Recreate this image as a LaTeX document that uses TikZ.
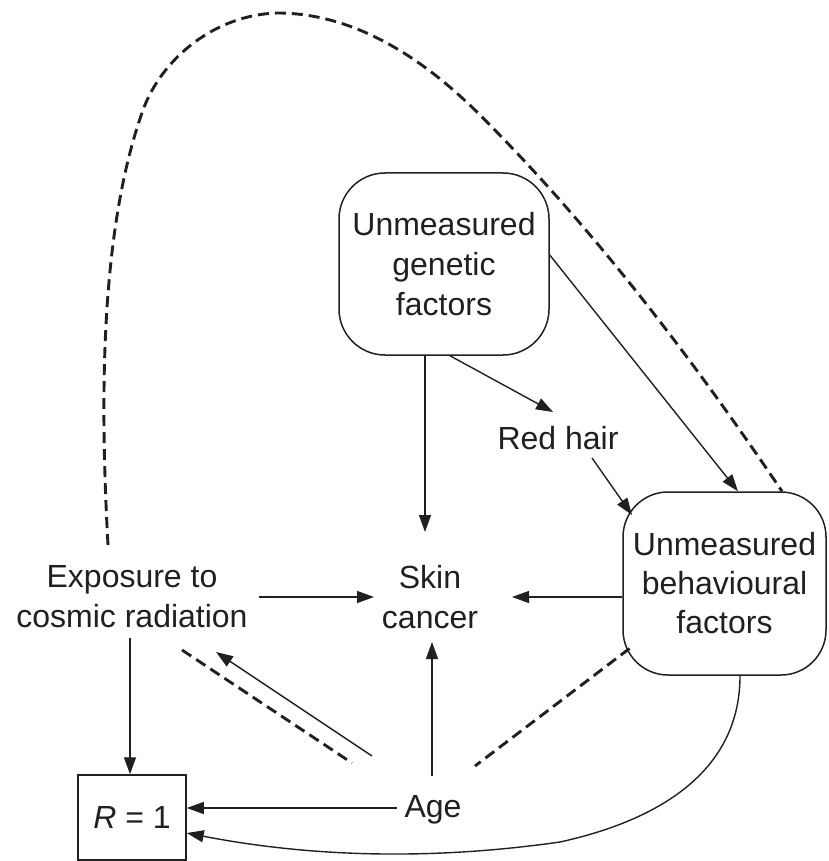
\documentclass[tikz,border=0pt]{standalone}
\usepackage{fontspec}
\setmainfont{Liberation Sans}
\usetikzlibrary{arrows.meta}
\definecolor{ink}{HTML}{231F20}
\begin{document}
\begin{tikzpicture}[x=1pt,y=-1pt, color=ink,
  lbl/.style={font=\fontsize{32}{40}\selectfont, align=center, inner sep=0pt, text=ink},
  rbox/.style={lbl, draw, line width=1.5pt, rounded corners=46pt, minimum width=210pt, minimum height=182pt},
  arr/.style={line width=1.4pt, -{Triangle[length=17pt,width=12pt]}},
  dsh/.style={line width=2.9pt, dash pattern=on 11pt off 6pt}]
\useasboundingbox (0,0) rectangle (828,861);
\node[rbox] (gen) at (444,264) {Unmeasured\\genetic\\factors};
\node[rbox, minimum width=203pt, minimum height=183pt, rounded corners=45pt,
      font=\fontsize{32}{39}\selectfont] (beh) at (724.5,583.5) {Unmeasured\\behavioural\\factors};
\node[lbl, draw, line width=1.5pt, minimum width=108pt, minimum height=85pt] (R) at (132,817.5) {{\itshape R} = 1};
\node[lbl] (exp) at (132,597) {Exposure to\\cosmic radiation};
\node[lbl] (skin) at (430,597) {Skin\\cancer};
\node[lbl] (red) at (558,438) {Red hair};
\node[lbl] (age) at (433,810) {Age};
% solid arrows
\draw[arr] ([shift={(-2,41)}]exp.center) -- ([xshift=-2pt]R.north);
\draw[arr] ([shift={(127,0)}]exp.center) -- ([shift={(-56,0)}]skin.center);
\draw[arr] ([shift={(0,13.5)}]beh.west) -- ([shift={(82,0)}]skin.center);
\draw[arr] ([shift={(-1,-34)}]age.center) -- ([shift={(2,45)}]skin.center);
\draw[arr] ([shift={(-36,-2)}]age.center) -- ([shift={(0,-9.5)}]R.east);
\draw[arr] ([xshift=15.5pt]beh.south) .. controls +(0,95) and (660,820) .. (560,842)
  .. controls (420,862) and (300,855) .. ([shift={(0,15.5)}]R.east);
\draw[arr] ([shift={(-61,-54)}]age.center) -- ([shift={(84,55)}]exp.center);
\draw[arr] ([xshift=-19pt]gen.south) -- ([shift={(-5,-65)}]skin.center);
\draw[arr] ([xshift=6pt]gen.south) -- ([shift={(-5,-26)}]red.center);
\draw[arr] ([shift={(34,20)}]red.center) -- ([shift={(-92.5,-68.5)}]beh.center);
\draw[arr] ([shift={(0,-9)}]gen.east) -- ([xshift=13.5pt]beh.north);
% dashed
\draw[dsh] ([shift={(50,53)}]exp.center) -- ([shift={(-81,-47)}]age.center);
\draw[dsh] ([shift={(-95,65)}]beh.center) -- ([shift={(42,-44)}]age.center);
\draw[dsh] ([shift={(-24,-52)}]exp.center) .. controls (100,400) and (100,230) .. (143,110)
  .. controls (162,58) and (215,15) .. (277,13)
  .. controls (360,13) and (430,65) .. (480,115)
  .. controls (600,235) and (700,370) .. ([xshift=57.5pt]beh.north);
\end{tikzpicture}
\end{document}
